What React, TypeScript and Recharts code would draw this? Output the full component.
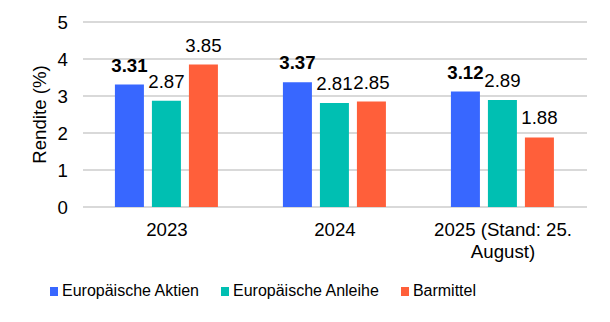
import React from 'react';
import { BarChart, Bar, XAxis, YAxis, CartesianGrid, Legend, LabelList, Text } from 'recharts';

const categories = ['2023', '2024', '2025 (Stand: 25. August)'];
const aktien = [3.31, 3.37, 3.12];
const anleihe = [2.87, 2.81, 2.89];
const barmittel = [3.85, 2.85, 1.88];
const yTicks = [0, 1, 2, 3, 4, 5];

const seriesInfo = [
  { key: 'aktien', name: 'Europäische Aktien', color: '#3867FF' },
  { key: 'anleihe', name: 'Europäische Anleihe', color: '#00BFB2' },
  { key: 'barmittel', name: 'Barmittel', color: '#FF5F3A' },
];

const data = categories.map((c, i) => ({
  year: c,
  aktien: aktien[i],
  anleihe: anleihe[i],
  barmittel: barmittel[i],
}));

const FONT = 18.67;

function XTick(props: any) {
  const { x, y, payload } = props;
  return (
    <Text
      x={x}
      y={y}
      width={150}
      textAnchor="middle"
      verticalAnchor="start"
      lineHeight={22}
      fontSize={FONT}
      fill="#000"
    >
      {payload.value}
    </Text>
  );
}

function LegendContent() {
  return (
    <div style={{ display: 'flex', alignItems: 'center', height: 26, fontSize: 16, color: '#000' }}>
      {seriesInfo.map((s) => (
        <div key={s.key} style={{ display: 'flex', alignItems: 'center', marginRight: 22 }}>
          <span style={{ width: 8, height: 9, background: s.color, marginRight: 4, display: 'inline-block' }} />
          <span>{s.name}</span>
        </div>
      ))}
    </div>
  );
}

const fmt = (v: any) => Number(v).toFixed(2);

export default function App() {
  return (
    <div style={{ position: 'absolute', left: 0, top: 0, width: 610, height: 322, background: '#fff', fontFamily: '"Liberation Sans", Arial, sans-serif' }}>
      <BarChart
        width={610}
        height={322}
        data={data}
        margin={{ top: 22, right: 23, bottom: 0, left: 0 }}
        barCategoryGap="19%"
        barGap={8}
      >
        <CartesianGrid vertical={false} stroke="#d9d9d9" strokeWidth={2} />
        <XAxis
          dataKey="year"
          axisLine={false}
          tickLine={false}
          tickSize={0}
          tickMargin={16}
          height={89}
          interval={0}
          tick={XTick}
        />
        <YAxis
          width={83}
          domain={[0, 5]}
          ticks={yTicks}
          axisLine={false}
          tickLine={false}
          tickSize={0}
          tickMargin={15}
          tick={{ fontSize: FONT, fill: '#000' }}
          label={{ value: 'Rendite (%)', angle: -90, position: 'center', dx: -2, fontSize: FONT, fill: '#000' }}
        />
        <Legend
          content={<LegendContent />}
          verticalAlign="bottom"
          wrapperStyle={{ left: 50, top: 278, width: 480, height: 26 }}
        />
        {seriesInfo.map((s) => (
          <Bar key={s.key} dataKey={s.key} name={s.name} fill={s.color} isAnimationActive={false}>
            <LabelList
              dataKey={s.key}
              position="top"
              offset={13}
              formatter={fmt}
              fontSize={FONT}
              fill="#000"
              fontWeight={s.key === 'aktien' ? 'bold' : 'normal'}
            />
          </Bar>
        ))}
      </BarChart>
    </div>
  );
}
